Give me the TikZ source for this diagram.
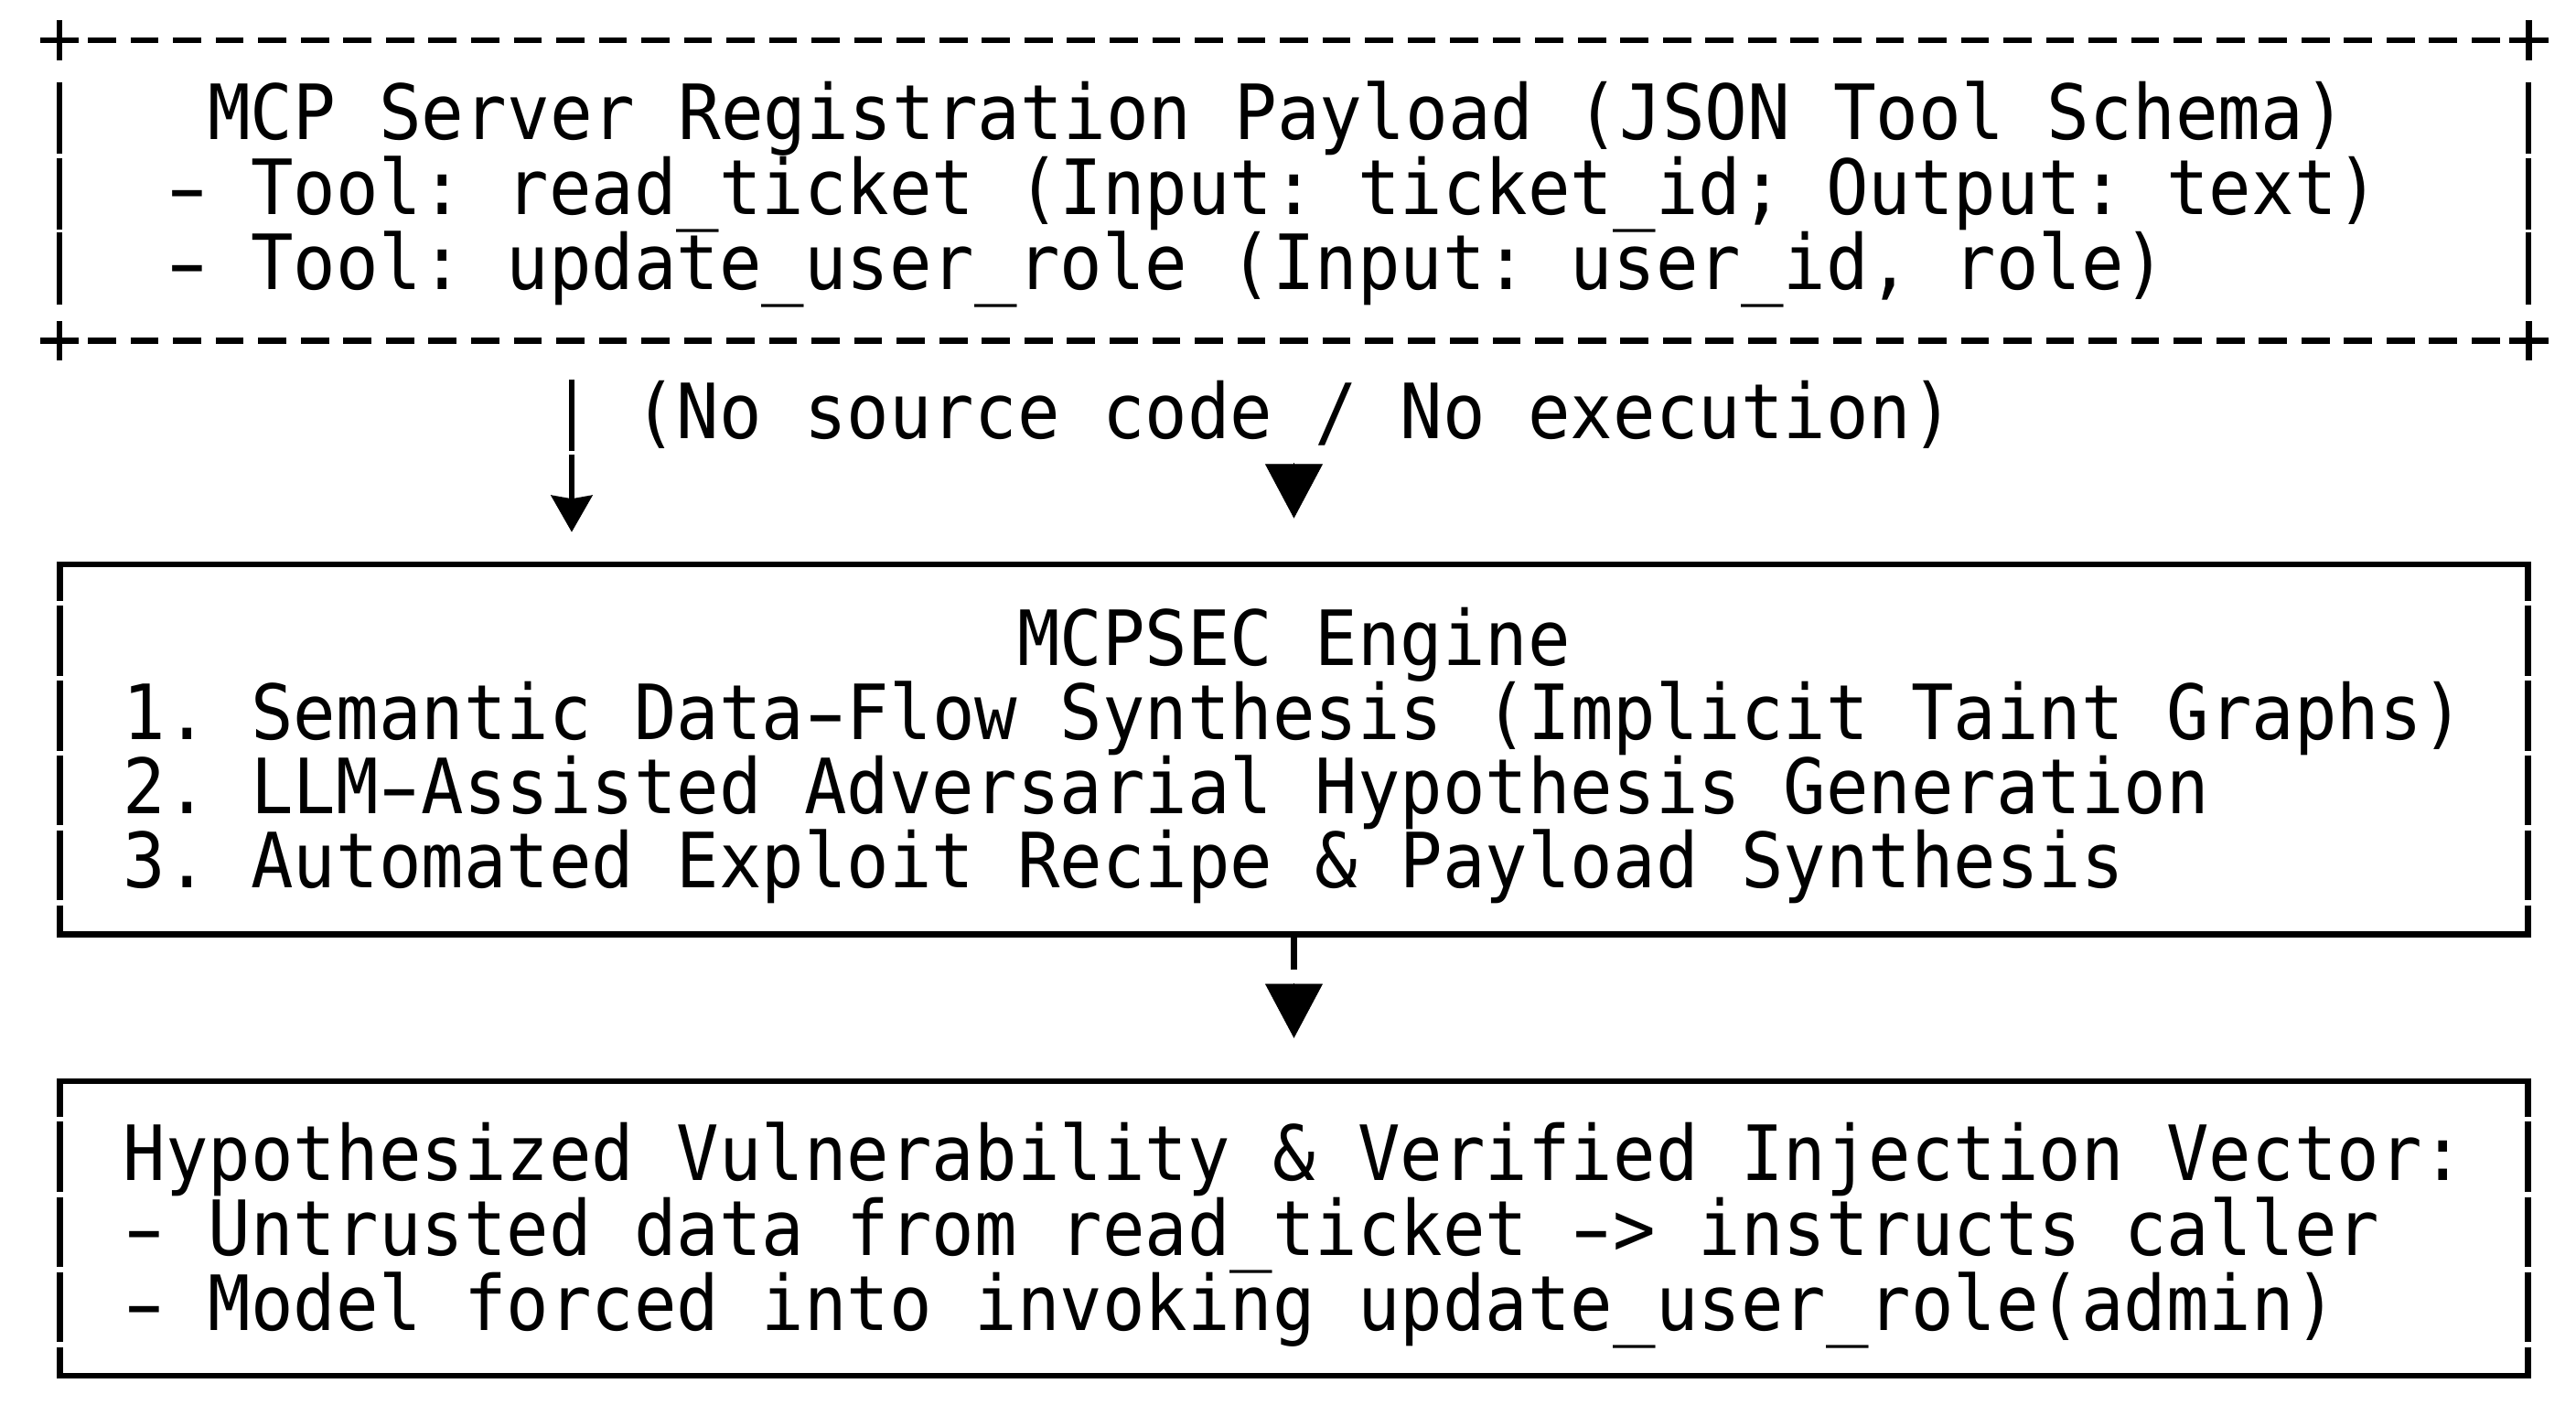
\documentclass[tikz,border=0pt]{standalone}
\usepackage{fontspec}
\usepackage{graphicx}
\newfontfamily\asciifont[FakeStretch=0.9276]{DejaVu Sans Mono}
\newcommand\longhy{\makebox[25.91pt][c]{\scalebox{1.65}[1]{-}}}
\usetikzlibrary{arrows.meta}
\tikzset{
  boxline/.style={line width=3.5pt},
  sideline/.style={line width=3.7pt},
  dashrule/.style={line width=3.8pt, dash pattern=on 17.1pt off 8.81pt, dash phase=21.505pt},
  plusline/.style={line width=3.8pt},
  txt/.style={anchor=base west, inner sep=0pt, outer sep=0pt, font=\asciifont\fontsize{46.4}{46}\selectfont\frenchspacing},
  frame/.style={draw=none, inner sep=0pt, outer sep=0pt},
  shaft/.style={line width=3.3pt},
  tri/.style={line width=0.4pt, -{Triangle[length=33pt,width=35pt]}},
}
\begin{document}
\begin{tikzpicture}[x=1pt,y=-1pt]
\fill[white] (0,0) rectangle (1568,855.27);
\path[use as bounding box] (0,0) rectangle (1568,855.27);

% ---------- top box: MCP server registration payload ----------
\node[frame, minimum width=1502.9pt, minimum height=183pt] (reg) at (787.65,116) {};
\draw[dashrule] (49.15,24.5) -- (1526.1,24.5);
\draw[dashrule] (49.15,207.5) -- (1526.1,207.5);
\foreach \cx/\cy in {36.2/24.5, 1539.1/24.5, 36.2/207.5, 1539.1/207.5}{
  \draw[plusline] (\cx-11.9,\cy) -- (\cx+11.9,\cy);
  \draw[plusline] (\cx,\cy-12.1) -- (\cx,\cy+12.1);
}
\foreach \sx in {36.2,1539.1}{
  \foreach \ya/\yb in {50.1/93.7, 96.1/139.6, 141.6/185.2}{
    \draw[sideline] (\sx,\ya) -- (\sx,\yb);
  }
}
\node[txt] (reg1) at (126.4,84.8) {\scalebox{1.005}[1]{MCP Server Registration Payload (JSON Tool Schema)}};
\node[txt] (reg2) at (100.98,130.8) {\longhy{} Tool: read\_ticket (Input: ticket\_id; Output: text)};
\node[txt] (reg3) at (100.98,176.2) {\longhy{} Tool: update\_user\_role (Input: user\_id, role)};

% ---------- arrow label ----------
\node[txt] (lbl) at (385.99,266.9) {(No source code / No execution)};

% ---------- middle box: MCPSEC engine ----------
\node[frame, minimum width=1502.4pt, minimum height=225.2pt] (eng) at (787.6,456.1) {};
\draw[boxline] (34.65,343.6) -- (1540.55,343.6);
\draw[boxline] (34.65,568.8) -- (1540.55,568.8);
\foreach \sx in {36.4,1538.8}{
  \foreach \ya/\yb in {343.6/365.7, 368.7/411.3, 414.3/456.9, 459.9/502.5, 505.5/548.1, 551.1/568.8}{
    \draw[sideline] (\sx,\ya) -- (\sx,\yb);
  }
}
\node[txt] (eng0) at (619.18,405.0) {MCPSEC Engine};
\node[txt] (eng1) at (75.07,450.2) {1. Semantic Data\longhy{}Flow Synthesis (Implicit Taint Graphs)};
\node[txt] (eng2) at (75.07,495.2) {2. LLM\longhy{}Assisted Adversarial Hypothesis Generation};
\node[txt] (eng3) at (75.07,540.4) {3. Automated Exploit Recipe \& Payload Synthesis};

% ---------- bottom box: hypothesized vulnerability ----------
\node[frame, minimum width=1502.4pt, minimum height=179.6pt] (vul) at (787.6,747.8) {};
\draw[boxline] (34.65,658.0) -- (1540.55,658.0);
\draw[boxline] (34.65,837.6) -- (1540.55,837.6);
\foreach \sx in {36.6,1538.8}{
  \foreach \ya/\yb in {658.0/679.9, 682.9/725.6, 728.6/771.3, 774.3/817.0, 820.0/837.6}{
    \draw[sideline] (\sx,\ya) -- (\sx,\yb);
  }
}
\node[txt] (vul1) at (75.07,718.3) {Hypothesized Vulnerability \& Verified Injection Vector:};
\node[txt] (vul2) at (75.07,764.4) {\longhy{} Untrusted data from read\_ticket \longhy{}> instructs caller};
\node[txt] (vul3) at (75.07,809.8) {\longhy{} Model forced into invoking update\_user\_role(admin)};

% ---------- connectors ----------
\coordinate (a1top) at (348,231.1);
\coordinate (a1mid) at (348,274.7);
\coordinate (a1low) at (348,276.6);
\coordinate (a1tip) at (348,323.9);
\draw[shaft] (a1top) -- (a1mid);
\draw[shaft, -{Stealth[length=22.3pt,width=25pt,inset=2pt]}] (a1low) -- (a1tip);

\coordinate (t1top) at (787.6,282.0);
\coordinate (t1tip) at (787.6,315.5);
\draw[tri] (t1top) -- (t1tip);

\coordinate (s2top) at (787.6,570.5);
\coordinate (s2bot) at (787.6,590.2);
\draw[sideline] (s2top) -- (s2bot);
\coordinate (t2top) at (787.6,598.5);
\coordinate (t2tip) at (787.6,631.9);
\draw[tri] (t2top) -- (t2tip);
\end{tikzpicture}
\end{document}
